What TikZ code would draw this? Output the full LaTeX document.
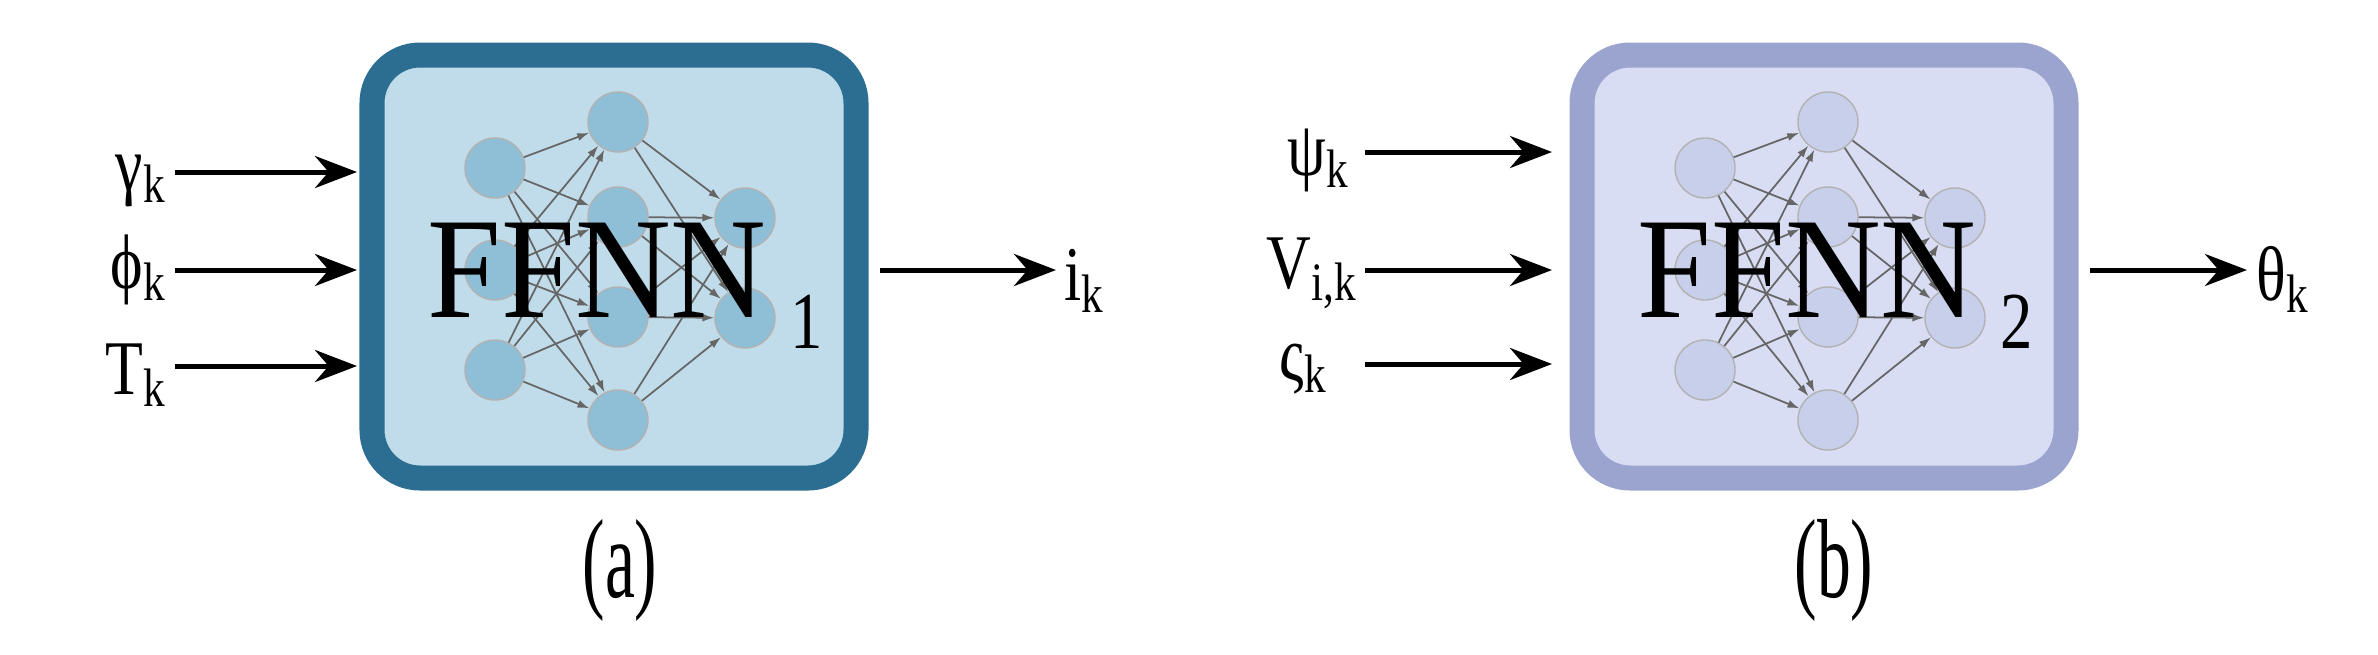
\documentclass[tikz,border=0pt]{standalone}
\usepackage{fontspec}
\setmainfont{Liberation Serif}
\usetikzlibrary{arrows.meta}
\definecolor{bordA}{HTML}{2C6E91}
\definecolor{fillA}{HTML}{C0DCEA}
\definecolor{nodeA}{HTML}{8FBFD6}
\definecolor{bordB}{HTML}{9BA3CF}
\definecolor{fillB}{HTML}{D8DDF3}
\definecolor{nodeB}{HTML}{C8CFEA}
\newcommand{\nx}[2]{\scalebox{#1}[1]{#2}}
\begin{document}
\begin{tikzpicture}[x=0.01cm,y=-0.01cm,
  box/.style={line width=0.25cm,rounded corners=0.48cm},
  neu/.style={circle,minimum size=0.6cm,inner sep=0pt,draw=gray!60,line width=0.4pt},
  edge/.style={draw=gray!80!black,line width=0.5pt,-{Latex[length=0.12cm,width=0.08cm]}},
  io/.style={line width=0.05cm,-{Stealth[length=0.42cm,width=0.32cm]}},
  lab/.style={font=\fontsize{22}{22}\selectfont,inner sep=0pt},
  big/.style={font=\fontsize{41}{41}\selectfont,inner sep=0pt,anchor=base west},
  sub/.style={font=\fontsize{23}{23}\selectfont,inner sep=0pt,anchor=base west},
  captxt/.style={font=\fontsize{32}{32}\selectfont,inner sep=0pt}]
\useasboundingbox (0,0) rectangle (2378,654);
\foreach \s/\bc/\fc/\nc/\dx in {a/bordA/fillA/nodeA/0,b/bordB/fillB/nodeB/1210}{
  \begin{scope}[xshift=\dx*0.01cm]
  \draw[box,draw=\bc,fill=\fc] (372,55) rectangle (856,478);
  \node[neu,fill=\nc] (\s i1) at (495,168) {};
  \node[neu,fill=\nc] (\s i2) at (495,270) {};
  \node[neu,fill=\nc] (\s i3) at (495,370) {};
  \node[neu,fill=\nc] (\s h1) at (618,122) {};
  \node[neu,fill=\nc] (\s h2) at (618,217) {};
  \node[neu,fill=\nc] (\s h3) at (618,317) {};
  \node[neu,fill=\nc] (\s h4) at (618,420) {};
  \node[neu,fill=\nc] (\s o1) at (745,218) {};
  \node[neu,fill=\nc] (\s o2) at (745,318) {};
  \foreach \i in {1,2,3}{\foreach \h in {1,2,3,4}{\draw[edge] (\s i\i) -- (\s h\h);}}
  \foreach \h in {1,2,3,4}{\foreach \o in {1,2}{\draw[edge] (\s h\h) -- (\s o\o);}}
  \end{scope}}
\node[big] (fa) at (427,317) {\nx{0.92}{FFNN}};
\node[sub] (fa1) at (790,348) {\nx{0.8}{1}};
\node[big] (fb) at (1637,317) {\nx{0.92}{FFNN}};
\node[sub] (fb1) at (2000,348) {\nx{0.8}{2}};
% inputs a
\node[lab,anchor=base east] (g) at (167,190) {\nx{0.8}{γ\textsubscript{k}}};
\node[lab,anchor=base east] (p) at (167,288) {\nx{0.8}{ϕ\textsubscript{k}}};
\node[lab,anchor=base east] (t) at (167,394) {\nx{0.8}{T\textsubscript{k}}};
\coordinate (ga) at (357,172); \coordinate (pa) at (357,270); \coordinate (ta) at (357,366);
\coordinate (gs) at (175,172); \coordinate (ps) at (175,270); \coordinate (ts) at (175,366);
\draw[io] (gs) -- (ga); \draw[io] (ps) -- (pa); \draw[io] (ts) -- (ta);
\coordinate (oas) at (880,270); \coordinate (oae) at (1056,270);
\draw[io] (oas) -- (oae);
\node[lab,anchor=base west] (ik) at (1064,300) {\nx{0.8}{i\textsubscript{k}}};
% inputs b
\node[lab,anchor=base east] (psi) at (1350,175) {\nx{0.8}{ψ\textsubscript{k}}};
\node[lab,anchor=base east] (v) at (1358,288) {\nx{0.8}{V\textsubscript{i,k}}};
\node[lab,anchor=base east] (vs) at (1328,380) {\nx{0.8}{ς\textsubscript{k}}};
\coordinate (b1s) at (1365,152); \coordinate (b1e) at (1552,152);
\coordinate (b2s) at (1365,270); \coordinate (b2e) at (1552,270);
\coordinate (b3s) at (1365,364); \coordinate (b3e) at (1552,364);
\draw[io] (b1s) -- (b1e); \draw[io] (b2s) -- (b2e); \draw[io] (b3s) -- (b3e);
\coordinate (obs) at (2090,270); \coordinate (obe) at (2247,270);
\draw[io] (obs) -- (obe);
\node[lab,anchor=base west] (th) at (2256,300) {\nx{0.8}{θ\textsubscript{k}}};
% captions
\node[captxt] (ca) at (620,570) {\nx{0.6}{(a)}};
\node[captxt] (cb) at (1834,570) {\nx{0.6}{(b)}};
\end{tikzpicture}
\end{document}
